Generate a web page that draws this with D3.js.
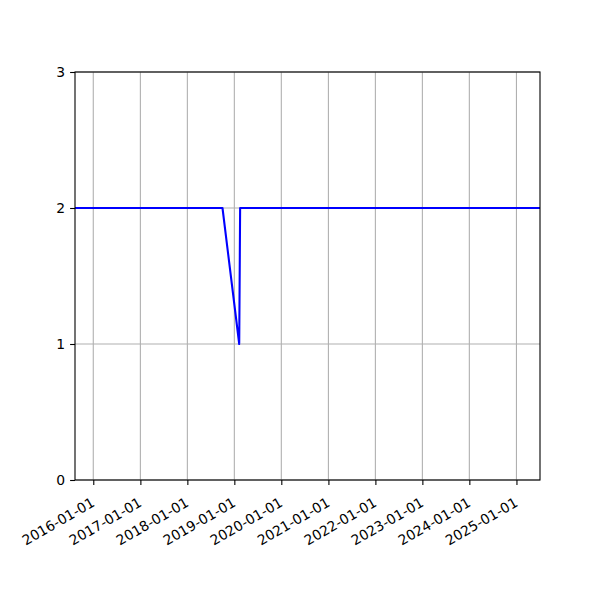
<!DOCTYPE html>
<html>
<head>
<meta charset="utf-8">
<script src="https://cdn.jsdelivr.net/npm/d3@7"></script>
<style>
  body { margin: 0; background: #fff; }
  text { font-family: "DejaVu Sans", sans-serif; }
</style>
</head>
<body>
<div id="chart"></div>
<script>
// data
var dates = ["2015-08-12", "2018-10-01", "2019-02-08", "2019-02-15", "2025-07-03"];
var values = [2, 2, 1, 2, 2];
var xTicks = ["2016-01-01", "2017-01-01", "2018-01-01", "2019-01-01", "2020-01-01",
              "2021-01-01", "2022-01-01", "2023-01-01", "2024-01-01", "2025-01-01"];
var yTicks = [0, 1, 2, 3];

var parse = d3.timeParse("%Y-%m-%d");
var fmt = d3.timeFormat("%Y-%m-%d");
var data = dates.map(function(d, i) { return {date: parse(d), value: values[i]}; });

var margin = {top: 72, right: 60, bottom: 120, left: 75},
    width = 600 - margin.left - margin.right,
    height = 600 - margin.top - margin.bottom;

var svg = d3.select("#chart")
  .append("svg")
  .attr("width", 600)
  .attr("height", 600)
  .append("g")
  .attr("transform", "translate(" + margin.left + "," + margin.top + ")");

var x = d3.scaleTime()
  .domain(d3.extent(data, function(d) { return d.date; }))
  .range([0, width]);

var y = d3.scaleLinear()
  .domain([0, 3])
  .range([height, 0]);

// grid
svg.append("g")
  .selectAll("line.vg")
  .data(xTicks.map(parse))
  .enter().append("line")
  .attr("x1", function(d) { return x(d); })
  .attr("x2", function(d) { return x(d); })
  .attr("y1", 0).attr("y2", height)
  .attr("stroke", "#b0b0b0").attr("stroke-width", 1.1);

svg.append("g")
  .selectAll("line.hg")
  .data(yTicks)
  .enter().append("line")
  .attr("x1", 0).attr("x2", width)
  .attr("y1", function(d) { return y(d); })
  .attr("y2", function(d) { return y(d); })
  .attr("stroke", "#b0b0b0").attr("stroke-width", 1.1);

// the line
svg.append("path")
  .datum(data)
  .attr("fill", "none")
  .attr("stroke", "#0000ff")
  .attr("stroke-width", 2.08)
  .attr("stroke-linejoin", "round")
  .attr("d", d3.line()
    .x(function(d) { return x(d.date); })
    .y(function(d) { return y(d.value); }));

// frame
svg.append("rect")
  .attr("width", width).attr("height", height)
  .attr("fill", "none").attr("stroke", "#000").attr("stroke-width", 1.1);

// x axis
var xAxis = svg.append("g")
  .attr("transform", "translate(0," + height + ")")
  .call(d3.axisBottom(x).tickValues(xTicks.map(parse)).tickFormat(fmt)
    .tickSize(4.9).tickPadding(3));
xAxis.select(".domain").remove();
xAxis.selectAll(".tick line").attr("stroke-width", 1.1);
xAxis.selectAll(".tick text")
  .attr("font-size", "13.9px")
  .attr("font-family", "DejaVu Sans")
  .attr("fill", "#000")
  .style("text-anchor", "end")
  .attr("dy", "0.71em")
  .attr("transform", "translate(-7,10) rotate(-30)");

// y axis
var yAxis = svg.append("g")
  .call(d3.axisLeft(y).tickValues(yTicks).tickFormat(d3.format("d"))
    .tickSize(4.9).tickPadding(4.9));
yAxis.select(".domain").remove();
yAxis.selectAll(".tick line").attr("stroke-width", 1.1);
yAxis.selectAll(".tick text")
  .attr("font-size", "13.9px")
  .attr("font-family", "DejaVu Sans")
  .attr("fill", "#000");
</script>
</body>
</html>
